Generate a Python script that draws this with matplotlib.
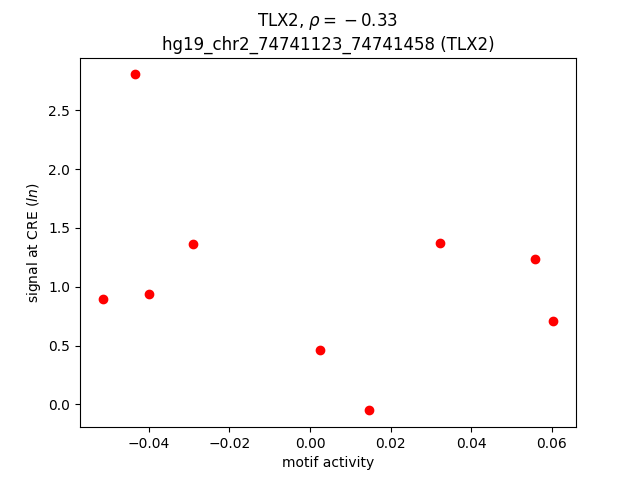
import matplotlib
matplotlib.use("Agg")
import matplotlib.pyplot as plt

motif_activity = [-0.0515, -0.0435, -0.0400, -0.0291, 0.0025, 0.0147, 0.0323, 0.0559, 0.0604]
signal = [0.893, 2.806, 0.935, 1.360, 0.459, -0.051, 1.369, 1.233, 0.706]

fig, ax = plt.subplots(figsize=(6.4, 4.8), dpi=100)
ax.scatter(motif_activity, signal, color="red")
ax.set_xlabel("motif activity")
ax.set_ylabel("signal at CRE ($ln$)")
ax.set_title("TLX2, $\\rho = {} - 0.33$\nhg19_chr2_74741123_74741458 (TLX2)")
fig.savefig("out.png")
